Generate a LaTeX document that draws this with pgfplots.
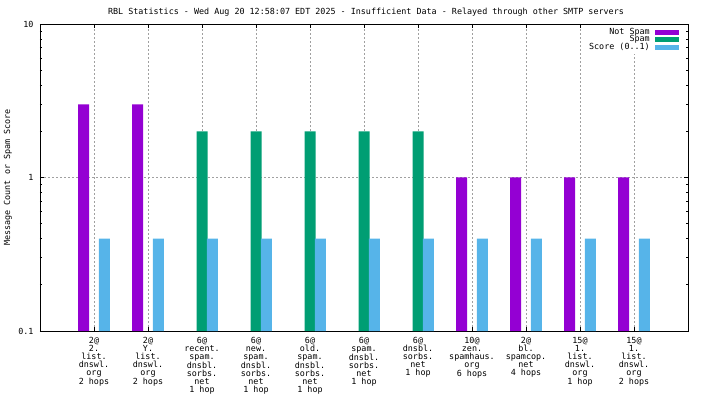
\documentclass[border=0pt]{standalone}
\usepackage{pgfplots}
\pgfplotsset{compat=1.18}
\usepackage{fontspec}
\setmainfont{DejaVu Sans Mono}
\definecolor{cNot}{HTML}{9400D3}
\definecolor{cSpam}{HTML}{009E73}
\definecolor{cScore}{HTML}{56B4E9}
\definecolor{cGrid}{HTML}{A0A0A0}
\newcommand{\gf}{\fontsize{8.4}{8}\selectfont}
\pgfplotsset{boxlegend/.style={legend image code/.code={\fill[##1] (0pt,-2.5pt) rectangle (24pt,2.5pt);}}}
\begin{document}
\begin{tikzpicture}[x=1pt,y=1pt]
\path[use as bounding box] (0,0) rectangle (704,396);
\begin{axis}[
  at={(40pt,65pt)}, anchor=south west, scale only axis,
  width=648pt, height=307pt,
  ymode=log, ymin=0.1, ymax=10, xmin=-1, xmax=11,
  log origin y=infty,
  ybar, bar width=0.2037,
  ytick={0.1,1,10}, yticklabels={0.1,1,10},
  minor ytick={0.2,0.3,0.4,0.5,0.6,0.7,0.8,0.9,2,3,4,5,6,7,8,9},
  xtick={0,...,10},
  xticklabels={
    {2@\\2.\\list.\\dnswl.\\org\\2 hops},
    {2@\\Y.\\list.\\dnswl.\\org\\2 hops},
    {6@\\recent.\\spam.\\dnsbl.\\sorbs.\\net\\1 hop},
    {6@\\new.\\spam.\\dnsbl.\\sorbs.\\net\\1 hop},
    {6@\\old.\\spam.\\dnsbl.\\sorbs.\\net\\1 hop},
    {6@\\spam.\\dnsbl.\\sorbs.\\net\\1 hop},
    {6@\\dnsbl.\\sorbs.\\net\\1 hop},
    {10@\\zen.\\spamhaus.\\org\\6 hops},
    {2@\\bl.\\spamcop.\\net\\4 hops},
    {15@\\1.\\list.\\dnswl.\\org\\1 hop},
    {15@\\1.\\list.\\dnswl.\\org\\2 hops}},
  xticklabel style={align=center, font=\gf, yshift=-3pt},
  yticklabel style={font=\gf, xshift=-3pt},
  /pgf/number format/assume math mode=true,
  tick align=inside,
  major tick length=4pt, minor tick length=2pt,
  every tick/.style={black, line width=0.6pt},
  xmajorgrids, ymajorgrids,
  major grid style={cGrid, line width=0.6pt, dash pattern=on 2pt off 2pt},
  axis line style={black, line width=0.8pt},
  every axis title shift=0pt,
  title={RBL Statistics - Wed Aug 20 12:58:07 EDT 2025 - Insufficient Data - Relayed through other SMTP servers},
  title style={font=\gf, at={([yshift=12pt,xshift=2pt]axis description cs:0.5,1)}, anchor=center},
  ylabel={Message Count or Spam Score},
  ylabel style={font=\gf, at={([xshift=-32pt]axis description cs:0,0.5)}, anchor=center},
  legend plot pos=right,
  legend cell align=right,
  legend style={draw=none, fill=white, at={(1,1)}, anchor=north east,
    xshift=-5pt, yshift=-1pt, font=\gf, inner xsep=4pt, inner ysep=4pt, row sep=1.5pt,
    nodes={inner sep=0pt, text height=5pt, text depth=1pt},
    /tikz/column sep=5pt},
]
\addplot[draw=none, fill=cNot, bar shift=-0.194, boxlegend] coordinates {
  (0,3) (1,3) (7,1) (8,1) (9,1) (10,1)};
\addlegendentry{Not Spam}
\addplot[draw=none, fill=cSpam, bar shift=0, boxlegend] coordinates {
  (2,2) (3,2) (4,2) (5,2) (6,2)};
\addlegendentry{Spam}
\addplot[draw=none, fill=cScore, bar shift=0.194, boxlegend] coordinates {
  (0,0.4) (1,0.4) (2,0.4) (3,0.4) (4,0.4) (5,0.4) (6,0.4) (7,0.4) (8,0.4) (9,0.4) (10,0.4)};
\addlegendentry{Score (0..1)}
\end{axis}
\end{tikzpicture}
\end{document}
